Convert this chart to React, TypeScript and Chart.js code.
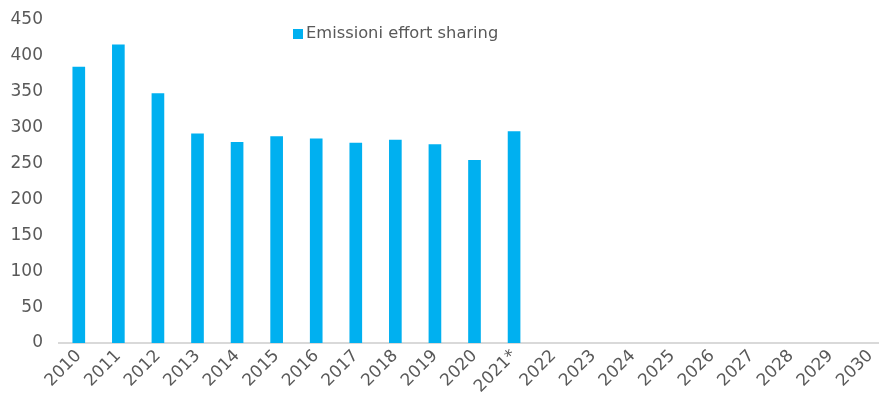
import React, { useEffect, useRef } from "react";
import { Chart, registerables } from "chart.js";

Chart.register(...registerables);

const categories = ["2010","2011","2012","2013","2014","2015","2016","2017","2018","2019","2020","2021*","2022","2023","2024","2025","2026","2027","2028","2029","2030"];
const emissioni = [385, 416, 348, 292, 280, 288, 285, 279, 283, 277, 255, 295, null, null, null, null, null, null, null, null, null];
const seriesLabel = "Emissioni effort sharing";

const FONT = '"DejaVu Sans", Verdana, sans-serif';
const TEXT = "#595959";
const BAR = "#00B0F0";

const legendPlugin = {
  id: "customLegend",
  afterDraw(chart: any) {
    const ctx = chart.ctx;
    const label = chart.data.datasets[0].label;
    ctx.save();
    ctx.fillStyle = BAR;
    ctx.fillRect(293, 29, 10, 10);
    ctx.font = `16.3px ${FONT}`;
    ctx.fillStyle = TEXT;
    ctx.textBaseline = "middle";
    ctx.textAlign = "left";
    ctx.fillText(label, 306, 34);
    ctx.restore();
  },
};

export default function App() {
  const ref = useRef<HTMLCanvasElement>(null);
  useEffect(() => {
    const chart = new Chart(ref.current!, {
      type: "bar",
      data: {
        labels: categories,
        datasets: [
          {
            label: seriesLabel,
            data: emissioni as any,
            backgroundColor: BAR,
            barPercentage: 0.32,
            categoryPercentage: 1,
          },
        ],
      },
      options: {
        responsive: false,
        animation: false,
        layout: { padding: { top: 0, left: 0, right: 0, bottom: 0 } },
        plugins: { legend: { display: false }, tooltip: { enabled: false } },
        scales: {
          x: {
            grid: { display: false, drawTicks: false },
            border: { display: true, color: "#D9D9D9", width: 2 },
            ticks: {
              color: TEXT,
              font: { family: FONT, size: 17 },
              maxRotation: 45,
              minRotation: 45,
              autoSkip: false,
              padding: 3,
            },
          },
          y: {
            min: 0,
            max: 450,
            grid: { display: false, drawTicks: false },
            border: { display: false },
            ticks: {
              stepSize: 50,
              color: TEXT,
              font: { family: FONT, size: 17 },
              padding: 16,
            },
            afterFit(scale: any) {
              scale.width = 59;
              scale.paddingTop = 20;
              scale.paddingBottom = 0;
            },
          },
        },
      },
      plugins: [legendPlugin],
    });
    return () => chart.destroy();
  }, []);
  return (
    <div style={{ position: "fixed", left: 0, top: 0, width: 879, height: 400, overflow: "hidden", background: "#fff" }}>
      <canvas ref={ref} width={890} height={400} style={{ display: "block" }} />
    </div>
  );
}
